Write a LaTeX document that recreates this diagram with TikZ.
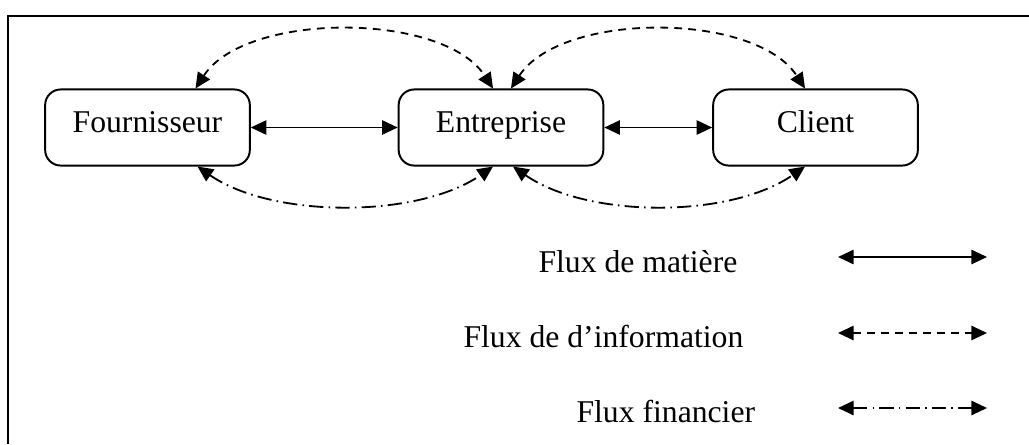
\documentclass[tikz,border=0pt]{standalone}
\usepackage{fontspec}
\setmainfont{Liberation Serif}
\usepackage{tikz}
\usetikzlibrary{arrows.meta,calc}

\begin{document}
\begin{tikzpicture}[x=0.01353cm, y=-0.01353cm, >={Triangle[length=6pt,width=5.5pt]},
  font=\fontsize{12.2}{14}\selectfont,
  entite/.style={draw, line width=0.75pt, rounded corners=6pt, minimum width=2.77cm, minimum height=1.03cm,
    text height=8pt, text depth=3.8pt},
  matiere/.style={<->, line width=0.7pt},
  info/.style={<->, line width=0.7pt, dash pattern=on 3pt off 2.4pt},
  finance/.style={<->, line width=0.7pt, dash pattern=on 5.5pt off 2pt on 0.6pt off 2pt}]
  \useasboundingbox (0,0) rectangle (1029,444);

  % Frame
  \draw[line width=0.8pt] (8,444) -- (8,16) -- (1035,16);

  % Entities
  \node[entite] (fournisseur) at (147.5,127.5) {Fournisseur};
  \node[entite] (entreprise) at (501,127.5) {Entreprise};
  \node[entite] (client) at (815.5,127.5) {Client};

  % Flux de matiere
  \draw[matiere] (fournisseur) -- (entreprise);
  \draw[matiere] (entreprise) -- (client);

  % Flux d'information
  \draw[info] ($(fournisseur.north)+(48,0)$) .. controls +(50,-77) and +(-50,-77) .. ($(entreprise.north)+(-8,0)$);
  \draw[info] ($(entreprise.north)+(10,0)$) .. controls +(50,-77) and +(-50,-77) .. ($(client.north)+(-10.5,0)$);

  % Flux financier
  \draw[finance] ($(fournisseur.south)+(50,0)$) .. controls +(75,52) and +(-75,52) .. ($(entreprise.south)+(-8,0)$);
  \draw[finance] ($(entreprise.south)+(12,0)$) .. controls +(75,52) and +(-75,52) .. ($(client.south)+(-10.5,0)$);

  % Legend
  \node[anchor=base west, inner sep=0pt] (lmatiere) at (538,272) {Flux de matière};
  \node[anchor=base west, inner sep=0pt] (linfo) at (463,347) {Flux de d’information};
  \node[anchor=base west, inner sep=0pt] (lfinance) at (576,422) {Flux financier};

  \coordinate (m1) at (838,257);
  \coordinate (m2) at (987,257);
  \coordinate (i1) at (838,333);
  \coordinate (i2) at (987,333);
  \coordinate (f1) at (838,408);
  \coordinate (f2) at (987,408);
  \draw[matiere] (m1) -- (m2);
  \draw[info] (i1) -- (i2);
  \draw[finance] (f1) -- (f2);
\end{tikzpicture}
\end{document}
